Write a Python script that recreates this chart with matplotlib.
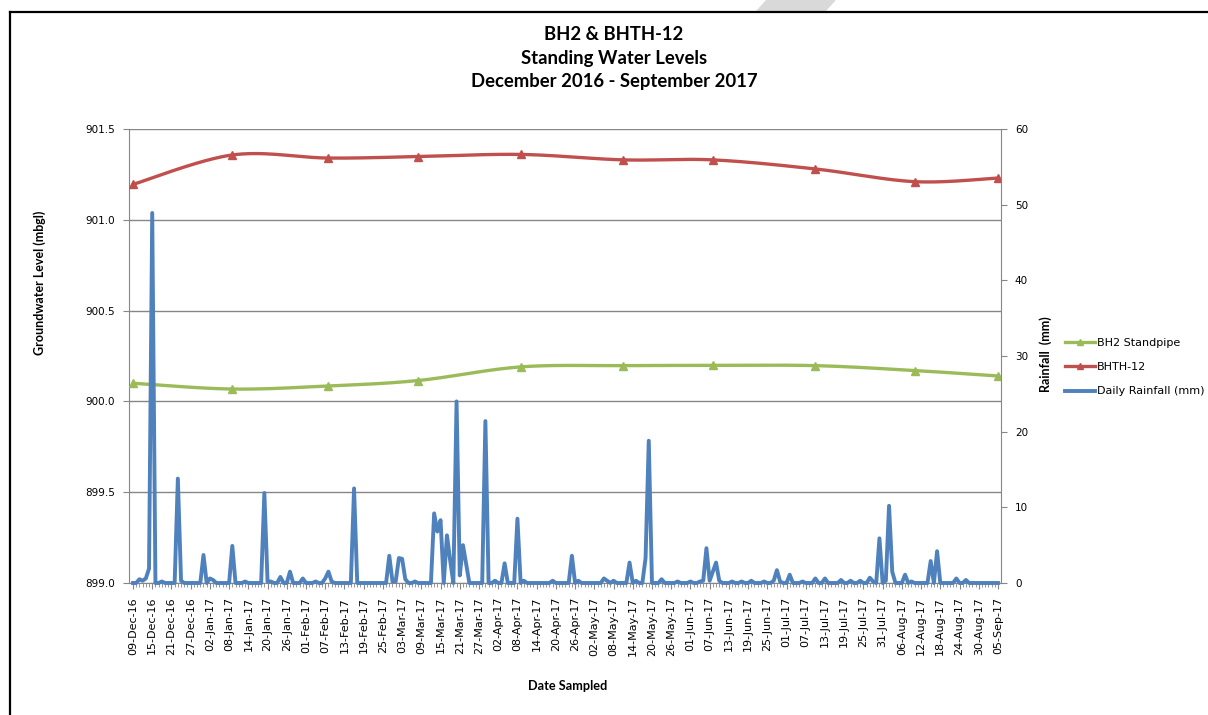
import numpy as np
import pandas as pd
import matplotlib
matplotlib.use("Agg")
import matplotlib.pyplot as plt
from matplotlib.lines import Line2D
from matplotlib.patches import Polygon

# daily rainfall, 09-Dec-16 .. 05-Sep-17 (mm)
start_date = "2016-12-09"
end_date = "2017-09-05"
rainfall = [
    0, 0, 0.5, 0.3, 0.6, 1.9, 48.9, 0, 0, 0.2,
    0, 0, 0, 0, 13.8, 0.3, 0, 0, 0, 0,
    0, 0, 3.7, 0, 0.6, 0.4, 0, 0, 0, 0,
    0, 4.9, 0, 0, 0, 0.2, 0, 0, 0, 0,
    0, 11.9, 0.2, 0.2, 0, 0, 0.8, 0, 0, 1.5,
    0, 0, 0, 0.6, 0, 0, 0, 0.2, 0, 0,
    0.6, 1.5, 0.2, 0, 0, 0, 0, 0, 0, 12.5,
    0, 0, 0, 0, 0, 0, 0, 0, 0, 0,
    3.6, 0.2, 0.2, 3.3, 3.2, 0.5, 0, 0, 0.2, 0,
    0, 0, 0, 0, 9.2, 6.8, 8.3, 0, 6.3, 3.0,
    0, 24.0, 1.0, 5.0, 2.5, 0, 0, 0, 0, 0,
    21.4, 0, 0, 0.3, 0, 0, 2.6, 0, 0, 0,
    8.5, 0, 0.3, 0, 0, 0, 0, 0, 0, 0,
    0, 0.3, 0, 0, 0, 0, 0, 3.6, 0, 0.3,
    0, 0, 0, 0, 0, 0, 0, 0.6, 0.3, 0,
    0.3, 0, 0, 0, 0, 2.7, 0, 0.3, 0, 0,
    3.3, 18.8, 0, 0, 0, 0.5, 0, 0, 0, 0,
    0.2, 0, 0, 0, 0.2, 0, 0, 0.2, 0.3, 4.6,
    0.3, 1.5, 2.7, 0.3, 0, 0, 0, 0.2, 0, 0,
    0.2, 0, 0, 0.3, 0, 0, 0, 0.2, 0, 0,
    0.3, 1.7, 0.2, 0, 0, 1.1, 0, 0, 0, 0.2,
    0, 0, 0, 0.6, 0, 0, 0.6, 0, 0, 0,
    0, 0.4, 0, 0, 0.3, 0, 0, 0.3, 0, 0,
    0.7, 0.2, 0, 5.9, 0, 0.3, 10.2, 1.5, 0, 0,
    0, 1.1, 0, 0.2, 0, 0, 0, 0, 0, 2.9,
    0, 4.2, 0, 0, 0, 0, 0, 0.6, 0, 0,
    0.4, 0, 0, 0, 0, 0, 0, 0, 0, 0,
    0,
]

sample_dates = ["2016-12-09", "2017-01-09", "2017-02-08", "2017-03-08", "2017-04-09",
                "2017-05-11", "2017-06-08", "2017-07-10", "2017-08-10", "2017-09-05"]
bh2 = [900.10, 900.068, 900.085, 900.115, 900.19, 900.197, 900.198, 900.197, 900.17, 900.14]
bhth12 = [901.195, 901.357, 901.34, 901.348, 901.36, 901.33, 901.33, 901.28, 901.21, 901.23]

GREEN = "#9BBB59"
RED = "#C0504D"
BLUE = "#4F81BD"
GREY = "#868686"
TITLE_FONT = ["Lato", "DejaVu Sans"]


def smooth(xs, ys, n=40):
    # excel-style smoothed line (bezier through the points)
    pts = np.column_stack([xs, ys]).astype(float)
    ext = np.vstack([pts[0], pts, pts[-1]])
    t = np.linspace(0, 1, n)[:, None]
    out = []
    for i in range(len(pts) - 1):
        p0, p1, p2, p3 = ext[i], ext[i + 1], ext[i + 2], ext[i + 3]
        c1 = p1 + (p2 - p0) / 6
        c2 = p2 - (p3 - p1) / 6
        out.append((1 - t) ** 3 * p1 + 3 * (1 - t) ** 2 * t * c1
                   + 3 * (1 - t) * t ** 2 * c2 + t ** 3 * p2)
    c = np.vstack(out)
    return c[:, 0], c[:, 1]


dates = pd.date_range(start_date, end_date, freq="D")
start = dates[0]
days = np.arange(len(dates))
sample_days = np.array([(pd.Timestamp(d) - start).days for d in sample_dates])

fig = plt.figure(figsize=(12.08, 7.15), dpi=100)
ax = fig.add_axes([129 / 1208, 1 - 583 / 715, 872 / 1208, 454 / 715])
ax2 = ax.twinx()

# water levels
sx, sy = smooth(sample_days, bh2)
ax.plot(sx, sy, color=GREEN, lw=2.4, solid_capstyle="round", zorder=3)
ax.plot(sample_days, bh2, ls="none", marker="^", ms=6, color=GREEN, zorder=4)
sx, sy = smooth(sample_days, bhth12)
ax.plot(sx, sy, color=RED, lw=2.4, solid_capstyle="round", zorder=3)
ax.plot(sample_days, bhth12, ls="none", marker="^", ms=6, color=RED, zorder=4)

# rainfall on secondary axis
ax2.plot(days, rainfall, color=BLUE, lw=2.8, solid_joinstyle="round", clip_on=False)

ax.set_xlim(-1.25, len(days) - 0.05)
ax.set_ylim(899.0, 901.5)
ax.set_yticks(np.arange(899.0, 901.51, 0.5))
ax.set_yticklabels([f"{v:.1f}" for v in np.arange(899.0, 901.51, 0.5)])
ax2.set_ylim(0, 60)
ax2.set_yticks(range(0, 61, 10))

ax.set_xticks(days[::6])
ax.set_xticklabels(dates[::6].strftime("%d-%b-%y"), rotation=90)
ax.set_xticks(days, minor=True)

ax.yaxis.grid(True, color=GREY, lw=1)
ax.set_axisbelow(True)
for s in ["top", "right"]:
    ax.spines[s].set_visible(False)
for s in ["top", "left", "bottom"]:
    ax2.spines[s].set_visible(False)
ax.spines["left"].set_color(GREY)
ax.spines["bottom"].set_color(GREY)
ax2.spines["right"].set_color(GREY)

ax.tick_params(axis="y", direction="out", length=4, color=GREY, labelsize=7.5, pad=6)
ax2.tick_params(axis="y", direction="out", length=4, color=GREY, labelsize=7.5, pad=6)
ax.tick_params(axis="x", which="major", direction="out", length=4, color=GREY, labelsize=8, pad=6)
ax.tick_params(axis="x", which="minor", direction="out", length=3, color=GREY)

# titles and labels
title_lines = ["BH2 & BHTH-12", "Standing Water Levels", "December 2016 - September 2017"]
for i, line in enumerate(title_lines):
    fig.text(614 / 1208, 1 - (35 + 23.5 * i) / 715, line, ha="center", va="center",
             fontsize=13.3, fontweight="bold", family=TITLE_FONT)
fig.text(40 / 1208, 1 - 283 / 715, "Groundwater Level (mbgl)", rotation=90,
         ha="center", va="center", fontsize=9, fontweight="bold", family=TITLE_FONT)
fig.text(1046 / 1208, 1 - 354 / 715, "Rainfall  (mm)", rotation=90,
         ha="center", va="center", fontsize=9, fontweight="bold", family=TITLE_FONT)
fig.text(568 / 1208, 1 - 686 / 715, "Date Sampled", ha="center", va="center",
         fontsize=9.2, fontweight="bold", family=TITLE_FONT)

handles = [
    Line2D([], [], color=GREEN, lw=2.4, marker="^", ms=5),
    Line2D([], [], color=RED, lw=2.4, marker="^", ms=5),
    Line2D([], [], color=BLUE, lw=2.8),
]
fig.legend(handles, ["BH2 Standpipe", "BHTH-12", "Daily Rainfall (mm)"],
           loc="center left", bbox_to_anchor=(1055 / 1208, 1 - 367 / 715),
           frameon=False, fontsize=8, handlelength=2.7, handletextpad=0.2,
           labelspacing=1.3)

# outer frame and watermark scrap
fig.add_artist(Line2D([10 / 1208, 1], [1 - 12 / 715, 1 - 12 / 715], color="black",
                      lw=1.6, transform=fig.transFigure))
fig.add_artist(Line2D([10 / 1208, 10 / 1208], [0, 1 - 12 / 715], color="black",
                      lw=1.6, transform=fig.transFigure))
fig.add_artist(Polygon([(767 / 1208, 1), (835 / 1208, 1), (825 / 1208, 1 - 11 / 715),
                        (757 / 1208, 1 - 11 / 715)], closed=True, color="#d9d9d9",
                       transform=fig.transFigure, zorder=0))

fig.savefig("out.png", dpi=100)
